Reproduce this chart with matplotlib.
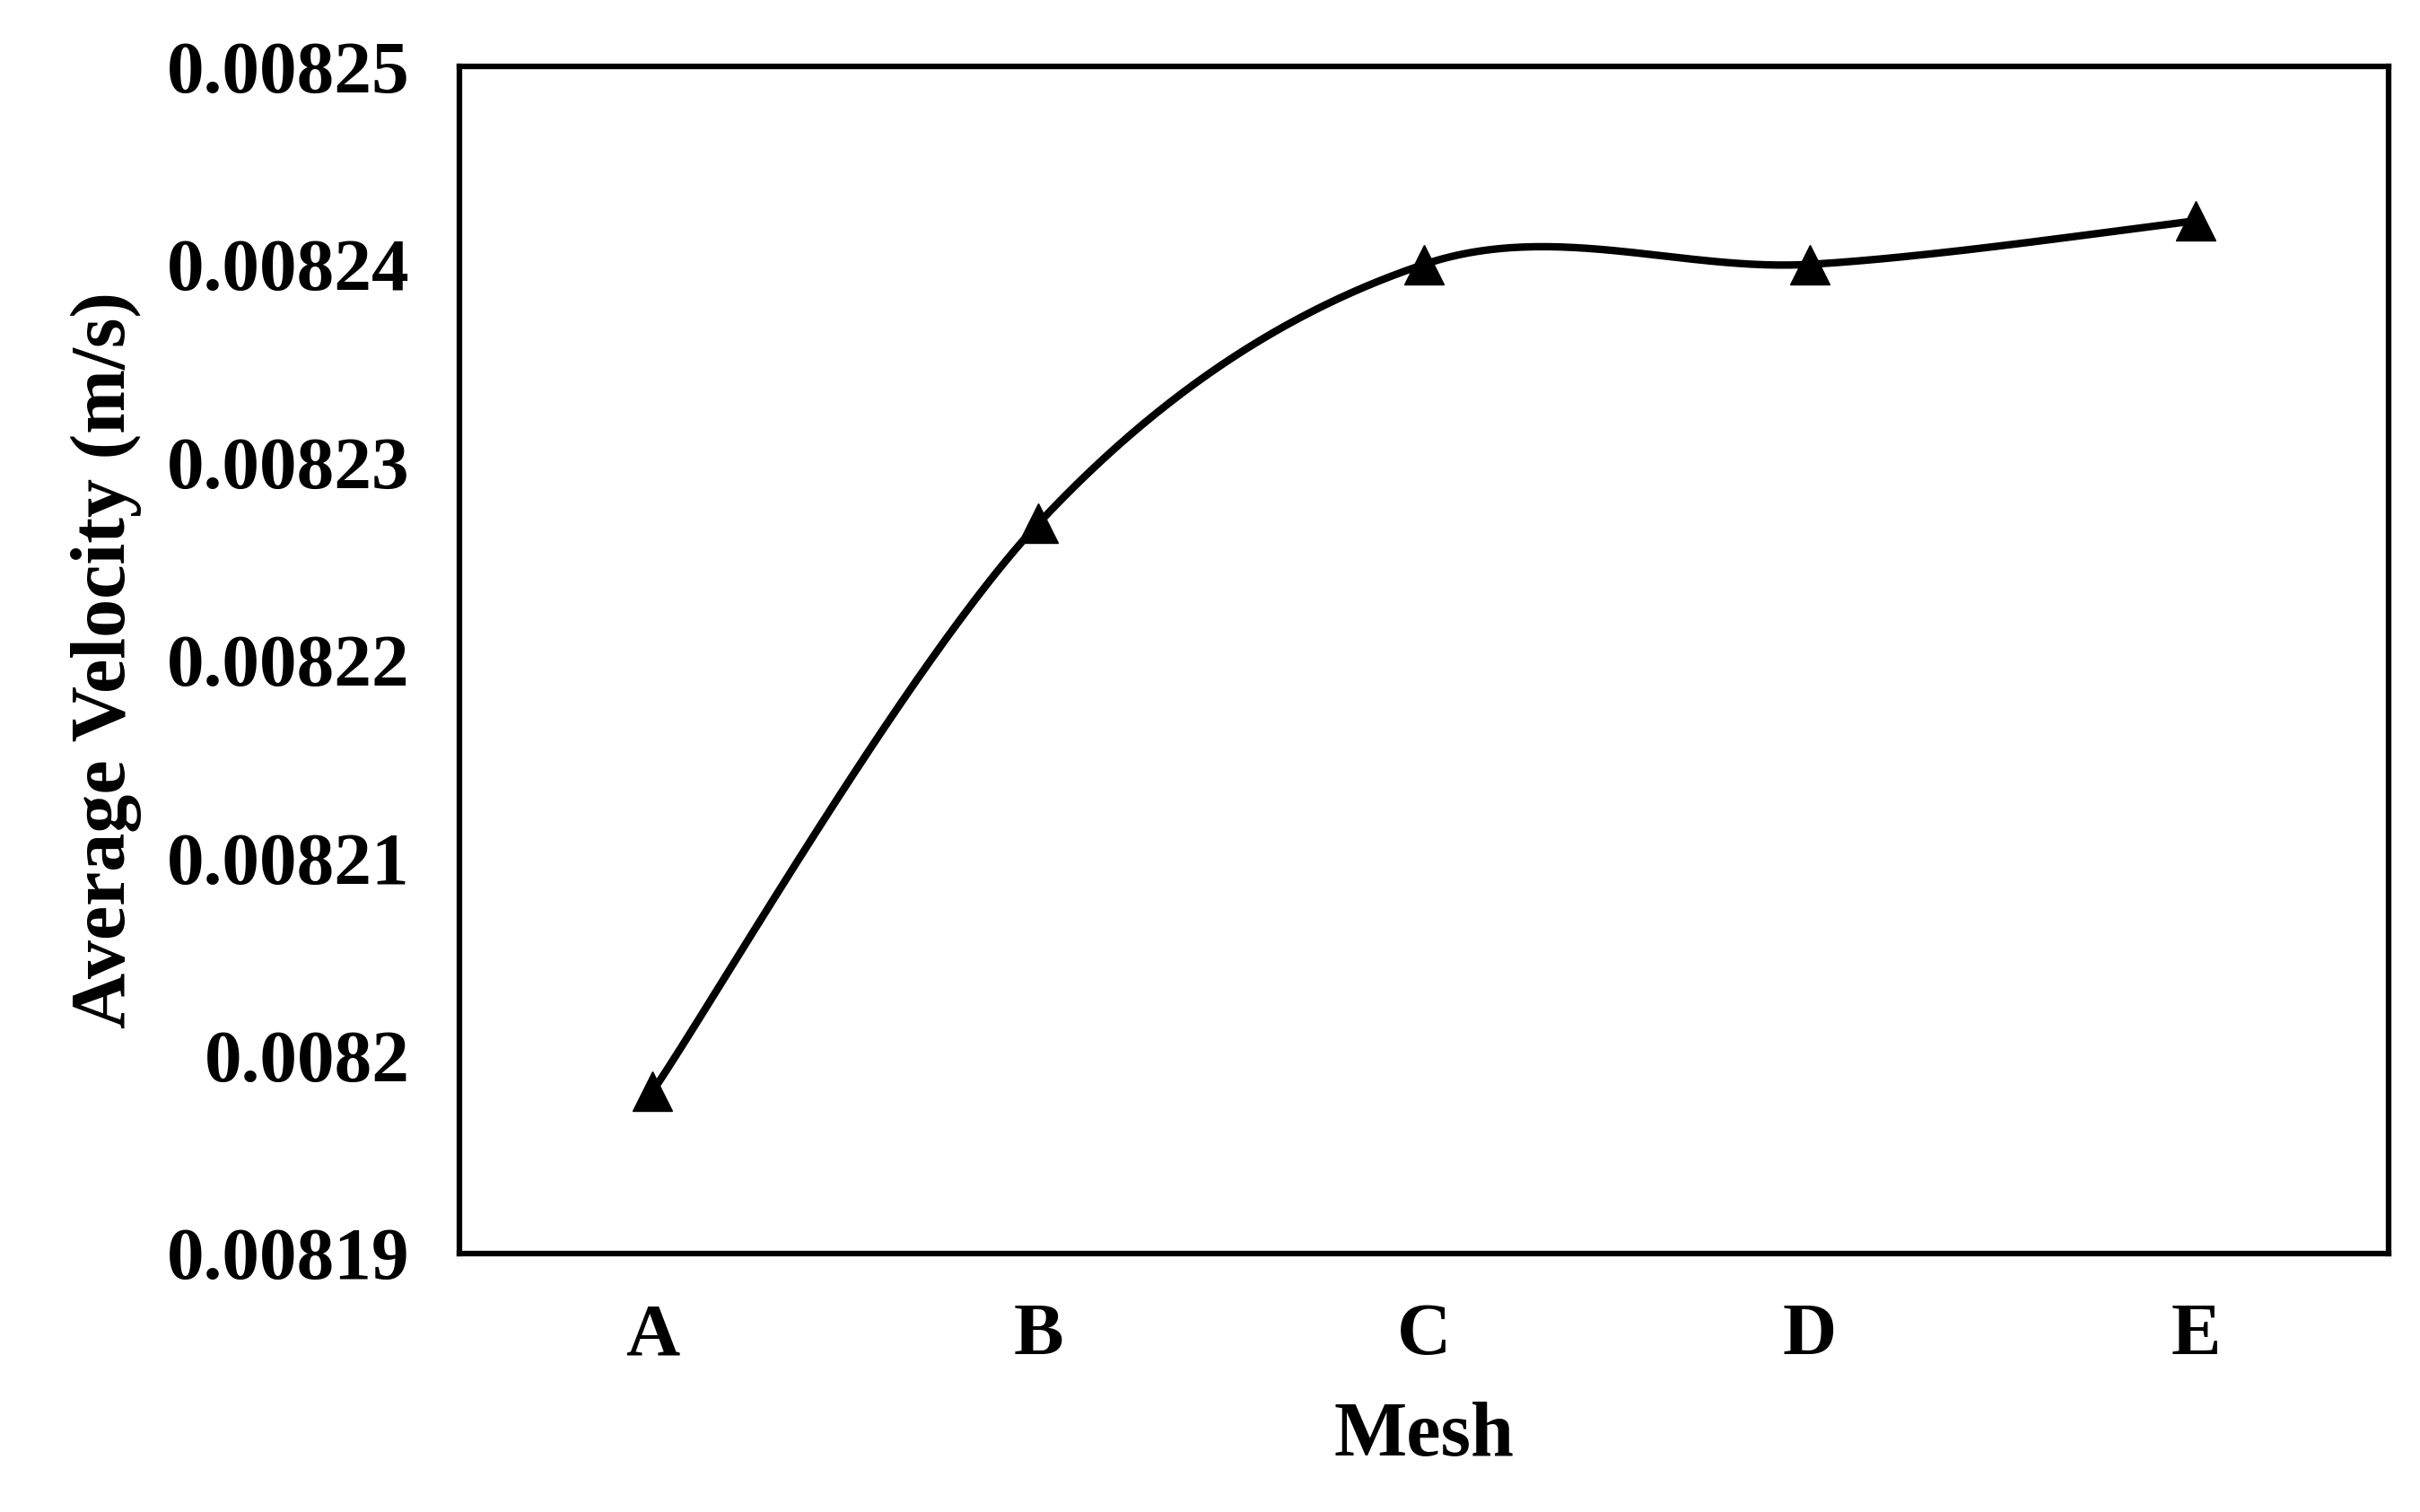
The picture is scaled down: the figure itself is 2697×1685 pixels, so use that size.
import matplotlib
matplotlib.use("Agg")
import matplotlib.pyplot as plt
import numpy as np

categories = ["A", "B", "C", "D", "E"]
values = [0.0081982, 0.0082269, 0.0082400, 0.0082400, 0.0082422]
yticks = [0.00819, 0.0082, 0.00821, 0.00822, 0.00823, 0.00824, 0.00825]
ytick_labels = ["0.00819", "0.0082", "0.00821", "0.00822", "0.00823", "0.00824", "0.00825"]

plt.rcParams['font.family'] = ['Liberation Serif', 'DejaVu Serif']
plt.rcParams['font.weight'] = 'bold'

fig = plt.figure(figsize=(26.97, 16.85), dpi=100)
ax = fig.add_axes([0.190, 0.171, 0.797, 0.785])

x = np.arange(len(categories), dtype=float)
y = np.array(values)

# Excel-like smoothed line (cubic Bezier with Catmull-Rom control points)
P = np.column_stack([x, y])
ext = np.vstack([P[0], P, P[-1]])
curve = []
t = np.linspace(0, 1, 60)[:, None]
for i in range(len(P) - 1):
    p0, p1, p2, p3 = ext[i], ext[i+1], ext[i+2], ext[i+3]
    c1 = p1 + (p2 - p0) / 6
    c2 = p2 - (p3 - p1) / 6
    seg = (1-t)**3*p1 + 3*(1-t)**2*t*c1 + 3*(1-t)*t**2*c2 + t**3*p2
    curve.append(seg)
curve = np.vstack(curve)
ax.plot(curve[:, 0], curve[:, 1], color='black', lw=6)
ax.plot(x, y, linestyle='none', marker='^', markersize=32, color='black')

ax.set_xlim(-0.5, len(categories) - 0.5)
ax.set_ylim(0.00819, 0.00825)
ax.set_xticks(x)
ax.set_xticklabels(categories)
ax.set_yticks(yticks)
ax.set_yticklabels(ytick_labels)
ax.tick_params(length=0, labelsize=60, pad=40)
for s in ax.spines.values():
    s.set_linewidth(4.5)
ax.set_xlabel("Mesh", fontsize=62, fontweight='bold', labelpad=25)
ax.set_ylabel("Average Velocity (m/s)", fontsize=62, fontweight='bold', labelpad=20)

fig.savefig("out.png", dpi=100)
